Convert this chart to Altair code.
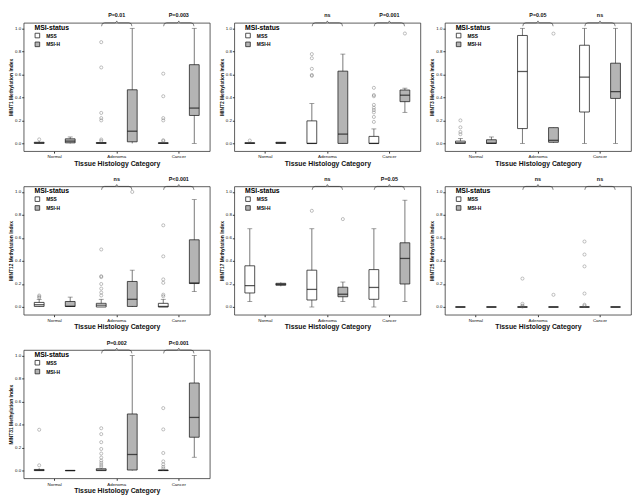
import altair as alt
import pandas as pd

CATEGORIES = ["Normal", "Adenoma", "Cancer"]
STATUS = ["MSS", "MSI-H"]
# group order: Normal-MSS, Normal-MSI-H, Adenoma-MSS, Adenoma-MSI-H, Cancer-MSS, Cancer-MSI-H

MINT1_Q1 = [0.000, 0.005, 0.000, 0.014, 0.000, 0.243]
MINT1_MED = [0.005, 0.020, 0.003, 0.106, 0.002, 0.307]
MINT1_Q3 = [0.010, 0.040, 0.008, 0.466, 0.006, 0.684]
MINT1_LO = [0.000, 0.000, 0.000, 0.000, 0.000, 0.000]
MINT1_HI = [0.020, 0.056, 0.012, 1.000, 0.010, 1.000]
MINT1_OUT = [[0.035], [], [0.88, 0.66, 0.265, 0.22, 0.20, 0.034, 0.022], [],
             [0.606, 0.41, 0.22, 0.20, 0.028, 0.02], []]
MINT1_P = ["P=0.01", "P=0.003"]

MINT2_Q1 = [0.000, 0.000, 0.000, 0.000, 0.000, 0.363]
MINT2_MED = [0.002, 0.005, 0.000, 0.081, 0.000, 0.419]
MINT2_Q3 = [0.006, 0.010, 0.196, 0.628, 0.061, 0.464]
MINT2_LO = [0.000, 0.000, 0.000, 0.000, 0.000, 0.270]
MINT2_HI = [0.010, 0.012, 0.346, 0.776, 0.126, 0.480]
MINT2_OUT = [[0.025], [], [0.776, 0.74, 0.648, 0.595, 0.587], [],
             [0.483, 0.42, 0.41, 0.335, 0.31, 0.29, 0.27, 0.23, 0.187], [0.955]]
MINT2_P = ["ns", "P=0.001"]

MINT3_Q1 = [0.000, 0.000, 0.129, 0.010, 0.273, 0.391]
MINT3_MED = [0.005, 0.002, 0.625, 0.027, 0.576, 0.450]
MINT3_Q3 = [0.020, 0.032, 0.938, 0.137, 0.853, 0.697]
MINT3_LO = [0.000, 0.000, 0.000, 0.005, 0.000, 0.000]
MINT3_HI = [0.043, 0.056, 1.000, 0.137, 1.000, 1.000]
MINT3_OUT = [[1.0, 0.2, 0.14, 0.1, 0.08], [], [], [0.954], [], []]
MINT3_P = ["P=0.05", "ns"]

MINT12_Q1 = [0.005, 0.005, 0.000, 0.005, 0.000, 0.204]
MINT12_MED = [0.020, 0.006, 0.016, 0.067, 0.005, 0.209]
MINT12_Q3 = [0.040, 0.048, 0.032, 0.222, 0.032, 0.584]
MINT12_LO = [0.000, 0.000, 0.000, 0.000, 0.000, 0.134]
MINT12_HI = [0.067, 0.086, 0.067, 0.320, 0.067, 0.933]
MINT12_OUT = [[0.1, 0.09, 0.08], [], [0.5, 0.268, 0.26, 0.2, 0.16, 0.126, 0.1], [1.0],
              [0.71, 0.44, 0.24, 0.21, 0.107, 0.094], []]
MINT12_P = ["ns", "P<0.001"]

MINT17_Q1 = [0.122, 0.189, 0.061, 0.089, 0.067, 0.200]
MINT17_MED = [0.186, 0.197, 0.153, 0.111, 0.170, 0.422]
MINT17_Q3 = [0.358, 0.206, 0.320, 0.172, 0.325, 0.558]
MINT17_LO = [0.047, 0.180, 0.000, 0.047, 0.000, 0.047]
MINT17_HI = [0.680, 0.214, 0.680, 0.217, 0.680, 0.928]
MINT17_OUT = [[], [], [0.836], [0.764], [], []]
MINT17_P = ["ns", "P=0.05"]

MINT25_Q1 = [0.000, 0.000, 0.000, 0.000, 0.000, 0.000]
MINT25_MED = [0.000, 0.000, 0.000, 0.000, 0.000, 0.000]
MINT25_Q3 = [0.000, 0.000, 0.000, 0.000, 0.000, 0.000]
MINT25_LO = [0.000, 0.000, 0.000, 0.000, 0.000, 0.000]
MINT25_HI = [0.000, 0.000, 0.000, 0.000, 0.000, 0.000]
MINT25_OUT = [[], [], [0.247, 0.028, 0.011, 0.004], [0.106],
              [0.569, 0.456, 0.353, 0.117, 0.02, 0.011], []]
MINT25_P = ["ns", "ns"]

MINT31_Q1 = [0.000, 0.000, 0.000, 0.005, 0.000, 0.290]
MINT31_MED = [0.003, 0.000, 0.005, 0.140, 0.002, 0.462]
MINT31_Q3 = [0.010, 0.002, 0.016, 0.492, 0.005, 0.761]
MINT31_LO = [0.000, 0.000, 0.000, 0.000, 0.000, 0.116]
MINT31_HI = [0.020, 0.003, 0.025, 1.000, 0.008, 1.000]
MINT31_OUT = [[0.355, 0.046], [], [0.368, 0.317, 0.247, 0.188, 0.148, 0.113, 0.086, 0.067, 0.048, 0.032], [],
              [0.543, 0.358, 0.153, 0.08, 0.054, 0.032, 0.016], []]
MINT31_P = ["P=0.002", "P<0.001"]

PANELS = [
    ("MINT1", MINT1_Q1, MINT1_MED, MINT1_Q3, MINT1_LO, MINT1_HI, MINT1_OUT, MINT1_P),
    ("MINT2", MINT2_Q1, MINT2_MED, MINT2_Q3, MINT2_LO, MINT2_HI, MINT2_OUT, MINT2_P),
    ("MINT3", MINT3_Q1, MINT3_MED, MINT3_Q3, MINT3_LO, MINT3_HI, MINT3_OUT, MINT3_P),
    ("MINT12", MINT12_Q1, MINT12_MED, MINT12_Q3, MINT12_LO, MINT12_HI, MINT12_OUT, MINT12_P),
    ("MINT17", MINT17_Q1, MINT17_MED, MINT17_Q3, MINT17_LO, MINT17_HI, MINT17_OUT, MINT17_P),
    ("MINT25", MINT25_Q1, MINT25_MED, MINT25_Q3, MINT25_LO, MINT25_HI, MINT25_OUT, MINT25_P),
    ("MINT31", MINT31_Q1, MINT31_MED, MINT31_Q3, MINT31_LO, MINT31_HI, MINT31_OUT, MINT31_P),
]

FONT = "Liberation Sans"
# curly bracket drawn as a custom symbol (wide path, small nominal size)
BRACE = ("M -4 0.9 Q -4 0 -3.2 0 L -0.5 0 Q -0.1 0 0 -0.5 "
         "Q 0.1 0 0.5 0 L 3.2 0 Q 4 0 4 0.9")


def panel(name, q1, med, q3, lo, hi, outs, pv):
    groups = [(c, s) for c in CATEGORIES for s in STATUS]
    box = pd.DataFrame({
        "cat": [g[0] for g in groups],
        "status": [g[1] for g in groups],
        "q1": q1, "med": med, "q3": q3, "lo": lo, "hi": hi,
    })
    out_rows = []
    for g, vals in zip(groups, outs):
        for v in vals:
            out_rows.append({"cat": g[0], "status": g[1], "val": v})
    outliers = pd.DataFrame(out_rows, columns=["cat", "status", "val"])
    ptab = pd.DataFrame({"cat": ["Adenoma", "Cancer"], "p": pv})

    x = alt.X("cat:N", sort=CATEGORIES,
              scale=alt.Scale(domain=CATEGORIES, paddingInner=0, paddingOuter=0),
              axis=alt.Axis(title="Tissue Histology Category", labelAngle=0, domain=False,
                            tickSize=2, labelFontSize=4.5, labelPadding=1,
                            titleFontSize=7, titleFontWeight="bold", titlePadding=1))
    xo = alt.XOffset("status:N", sort=STATUS,
                     scale=alt.Scale(domain=STATUS, paddingInner=0, paddingOuter=0))
    yscale = alt.Scale(domain=[-0.067, 1.048], nice=False, zero=False)
    yaxis = alt.Axis(values=[0, 0.2, 0.4, 0.6, 0.8, 1.0], tickCount=12, format=".1f",
                     grid=False, domain=False, tickSize=2, labelFontSize=4.5,
                     labelPadding=1, labelOverlap=False,
                     title=f"{name} Methylation Index", titleFontSize=5,
                     titleFontWeight="bold", titlePadding=1)

    base = alt.Chart(box)
    whisk = base.mark_rule(color="#555", strokeWidth=0.8).encode(
        x=x, xOffset=xo, y=alt.Y("lo:Q", scale=yscale, axis=yaxis), y2="hi:Q")
    caps_hi = alt.Chart(box[box["hi"] > box["q3"] + 0.015]).mark_tick(
        color="#555", size=5, thickness=0.8).encode(x=x, xOffset=xo, y="hi:Q")
    caps_lo = alt.Chart(box[box["lo"] < box["q1"] - 0.015]).mark_tick(
        color="#555", size=5, thickness=0.8).encode(x=x, xOffset=xo, y="lo:Q")
    bars = base.mark_bar(size=10, stroke="#222", strokeWidth=0.8).encode(
        x=x, xOffset=xo, y="q1:Q", y2="q3:Q",
        fill=alt.Fill("status:N", sort=STATUS,
                      scale=alt.Scale(domain=STATUS, range=["white", "#b4b4b4"]),
                      legend=alt.Legend(title="MSI-status", orient="none", legendX=11, legendY=1,
                                        symbolType="square", symbolSize=22,
                                        symbolStrokeColor="#222", symbolStrokeWidth=0.8,
                                        titleFontSize=7, titleFontWeight="bold",
                                        labelFontSize=5, labelFontWeight="bold",
                                        labelOffset=6, rowPadding=1, titlePadding=2,
                                        padding=0)))
    meds = base.mark_tick(color="#111", size=10, thickness=1.3).encode(
        x=x, xOffset=xo, y="med:Q")
    pts = alt.Chart(outliers).mark_point(shape="circle", size=10, filled=False,
                                         color="#666", strokeWidth=0.6).encode(
        x=x, xOffset=xo, y="val:Q")
    brace = alt.Chart(ptab).mark_point(shape=BRACE, size=60, filled=False,
                                       color="#222", strokeWidth=0.8).encode(
        x=x, y=alt.datum(1.048))
    ptext = alt.Chart(ptab).mark_text(fontSize=5.5, fontWeight="bold", baseline="middle",
                                      color="#111").encode(
        x=x, y=alt.datum(1.112), text="p:N")
    return alt.layer(whisk, caps_hi, caps_lo, bars, meds, pts, brace, ptext).properties(
        width=190, height=131)


charts = [panel(*p) for p in PANELS]
chart = alt.concat(*charts, columns=3, spacing={"row": 10, "column": 8}).resolve_scale(
    fill="independent").resolve_legend(fill="independent").configure(
    font=FONT, padding=0).configure_view(stroke="#333", strokeWidth=0.8).configure_axis(
    tickColor="#333", labelColor="#111", titleColor="#111")

chart.save("out.html", embed_options={"renderer": "svg", "actions": False})
